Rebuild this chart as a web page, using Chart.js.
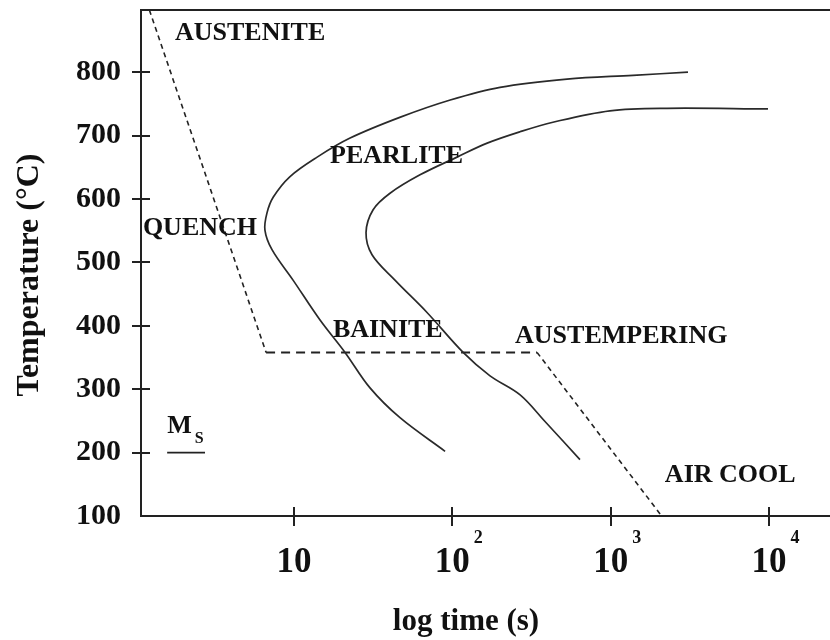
<!DOCTYPE html>
<html lang="en">
<head>
  <meta charset="UTF-8" />
  <title>TTT diagram - austempering</title>
  <script src="https://cdn.jsdelivr.net/npm/chart.js"></script>
  <style>
    html, body { margin: 0; padding: 0; background: #fff; }
    canvas { display: block; }
  </style>
</head>
<body>
  <canvas id="ttt" width="830" height="640"></canvas>

  <script>
    // transformation start curve (outer C curve), time in s, temperature in C
    const startTime = [3080, 1384, 530, 200, 97, 47, 22.6, 14.0, 9.4, 7.4, 6.75, 6.55, 7.26, 9.86, 14.6, 21.0, 30.2, 46.7, 90];
    const startTemp = [800, 795, 789, 776, 756, 729, 696, 666, 635, 603, 578, 551, 520, 472, 409, 358, 302, 255, 202];

    // transformation finish curve (inner C curve)
    const finishTime = [9860, 2270, 990, 432, 268, 166, 107, 62.5, 40.4, 31.6, 28.5, 31.1, 43.4, 69.2, 117, 173, 268, 385, 640];
    const finishTemp = [742, 743, 739, 721, 706, 688, 666, 638, 609, 583, 547, 512, 472, 421, 358, 321, 291, 249, 189];

    // quench -> austempering hold -> air cool path
    const pathTime = [1.22, 6.66, 343, 2100];
    const pathTemp = [898, 358, 358, 100];

    // Ms marker
    const msTime = [1.58, 2.74];
    const msTemp = [200, 200];

    // axes
    const yTicks = [100, 200, 300, 400, 500, 600, 700, 800];
    const xTicks = [10, 100, 1000, 10000];
    const xTickExp = ['', '2', '3', '4'];

    // region labels (anchor = left end of baseline)
    const labelText = ['AUSTENITE', 'PEARLITE', 'QUENCH', 'BAINITE', 'AUSTEMPERING', 'AIR COOL'];
    const labelTime = [1.77, 16.9, 1.11, 17.6, 249, 2200];
    const labelTemp = [850, 657, 543, 383, 373, 153];

    const pts = (xs, ys) => xs.map((v, i) => ({ x: v, y: ys[i] }));
    const serif = '"Liberation Serif", "Times New Roman", serif';

    const overlay = {
      id: 'overlay',
      afterDraw(chart) {
        const { ctx, chartArea: a, scales: { x, y } } = chart;
        ctx.save();

        // tick marks crossing the axes
        ctx.strokeStyle = '#222';
        ctx.lineWidth = 2;
        ctx.beginPath();
        yTicks.slice(1).forEach(v => {
          const py = Math.round(y.getPixelForValue(v));
          ctx.moveTo(a.left - 9, py);
          ctx.lineTo(a.left + 9, py);
        });
        xTicks.forEach(v => {
          const px = Math.round(x.getPixelForValue(v));
          ctx.moveTo(px, a.bottom - 9);
          ctx.lineTo(px, a.bottom + 10);
        });
        ctx.stroke();

        ctx.fillStyle = '#111';
        ctx.textBaseline = 'alphabetic';

        // x tick labels: 10, 10^2 ...
        xTicks.forEach((v, i) => {
          const px = x.getPixelForValue(v);
          ctx.font = 'bold 35px ' + serif;
          ctx.textAlign = 'center';
          ctx.fillText('10', px, a.bottom + 56);
          if (xTickExp[i]) {
            const w = ctx.measureText('10').width;
            ctx.font = 'bold 18px ' + serif;
            ctx.textAlign = 'left';
            ctx.fillText(xTickExp[i], px + w / 2 + 4, a.bottom + 27);
          }
        });

        // region labels
        ctx.font = 'bold 26px ' + serif;
        ctx.textAlign = 'left';
        labelText.forEach((t, i) => {
          ctx.fillText(t, x.getPixelForValue(labelTime[i]), y.getPixelForValue(labelTemp[i]));
        });

        // Ms label above its line
        const mx = x.getPixelForValue(msTime[0]);
        const my = y.getPixelForValue(msTemp[0]);
        ctx.fillText('M', mx, my - 20);
        const mw = ctx.measureText('M').width;
        ctx.font = 'bold 16px ' + serif;
        ctx.fillText('S', mx + mw + 3, my - 10);

        // axis titles
        ctx.font = 'bold 31px ' + serif;
        ctx.textAlign = 'center';
        ctx.fillText('log time (s)', 466, 630);

        ctx.translate(30, 275);
        ctx.rotate(-Math.PI / 2);
        ctx.font = 'bold 32px ' + serif;
        ctx.textBaseline = 'middle';
        ctx.fillText('Temperature (\u00B0C)', 0, 0);

        ctx.restore();
      }
    };

    const ctx = document.getElementById('ttt').getContext('2d');
    new Chart(ctx, {
      type: 'scatter',
      data: {
        datasets: [
          {
            label: 'Start',
            data: pts(startTime, startTemp),
            showLine: true,
            borderColor: '#2a2a2a',
            borderWidth: 1.7,
            pointRadius: 0,
            tension: 0.35
          },
          {
            label: 'Finish',
            data: pts(finishTime, finishTemp),
            showLine: true,
            borderColor: '#2a2a2a',
            borderWidth: 1.7,
            pointRadius: 0,
            tension: 0.35
          },
          {
            label: 'Path',
            data: pts(pathTime, pathTemp),
            showLine: true,
            borderColor: '#222',
            pointRadius: 0,
            tension: 0,
            segment: {
              borderDash: c => c.p0.parsed.y === c.p1.parsed.y ? [9, 6] : [5, 4],
              borderWidth: c => c.p0.parsed.y === c.p1.parsed.y ? 2 : 1.6
            }
          },
          {
            label: 'Ms',
            data: pts(msTime, msTemp),
            showLine: true,
            borderColor: '#222',
            borderWidth: 1.8,
            pointRadius: 0
          }
        ]
      },
      options: {
        responsive: false,
        animation: false,
        devicePixelRatio: 1,
        layout: { padding: 0 },
        plugins: {
          legend: { display: false },
          tooltip: { enabled: false }
        },
        scales: {
          x: {
            type: 'logarithmic',
            position: 'bottom',
            min: 1.08,
            max: 24300,
            ticks: { display: false },
            grid: { display: false },
            border: { display: true, color: '#222', width: 2 },
            afterFit: s => { s.height = 124; s.paddingLeft = 0; s.paddingRight = 0; }
          },
          top: {
            type: 'linear',
            position: 'top',
            ticks: { display: false },
            grid: { display: false },
            border: { display: true, color: '#222', width: 2 },
            afterFit: s => { s.height = 10; s.paddingLeft = 0; s.paddingRight = 0; }
          },
          y: {
            type: 'linear',
            min: 100,
            max: 898,
            afterBuildTicks: s => { s.ticks = yTicks.map(v => ({ value: v })); },
            ticks: {
              color: '#111',
              padding: 20,
              font: { family: serif, size: 30, weight: 'bold' }
            },
            grid: { display: false, drawTicks: false },
            border: { display: true, color: '#222', width: 2 },
            afterFit: s => { s.width = 141; s.paddingTop = 0; s.paddingBottom = 0; }
          }
        }
      },
      plugins: [overlay]
    });
  </script>
</body>
</html>
